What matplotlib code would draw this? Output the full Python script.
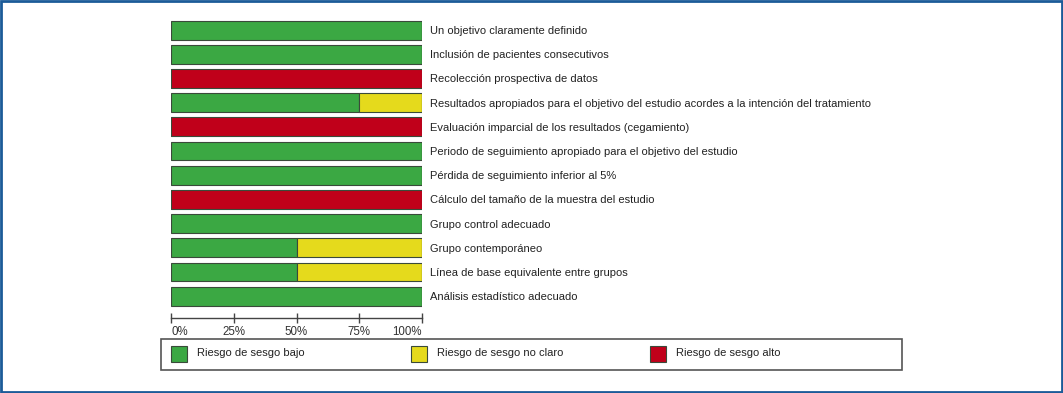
import matplotlib
matplotlib.use("Agg")
import matplotlib.pyplot as plt
from matplotlib.patches import Rectangle
from matplotlib.transforms import blended_transform_factory

plt.rcParams['font.family'] = ['Liberation Sans', 'DejaVu Sans']

categories = [
    "Un objetivo claramente definido",
    "Inclusión de pacientes consecutivos",
    "Recolección prospectiva de datos",
    "Resultados apropiados para el objetivo del estudio acordes a la intención del tratamiento",
    "Evaluación imparcial de los resultados (cegamiento)",
    "Periodo de seguimiento apropiado para el objetivo del estudio",
    "Pérdida de seguimiento inferior al 5%",
    "Cálculo del tamaño de la muestra del estudio",
    "Grupo control adecuado",
    "Grupo contemporáneo",
    "Línea de base equivalente entre grupos",
    "Análisis estadístico adecuado",
]
low_risk = [100, 100, 0, 75, 0, 100, 100, 0, 100, 50, 50, 100]
unclear_risk = [0, 0, 0, 25, 0, 0, 0, 0, 0, 50, 50, 0]
high_risk = [0, 0, 100, 0, 100, 0, 0, 100, 0, 0, 0, 0]
series_labels = ["Riesgo de sesgo bajo", "Riesgo de sesgo no claro", "Riesgo de sesgo alto"]
tick_values = [0, 25, 50, 75, 100]
tick_labels = ["0%", "25%", "50%", "75%", "100%"]

colors = ["#3ba843", "#e5da1c", "#c0001a"]
edge = "#3a4a3a"

W, H = 1063, 393
fig = plt.figure(figsize=(W / 100, H / 100), dpi=100)

def fx(px):
    return px / W

def fy(py):
    return 1 - py / H

ax = fig.add_axes([fx(171), fy(318), fx(422) - fx(171), fy(18) - fy(318)])
y = list(range(len(categories)))
left = [0] * len(categories)
for vals, col in zip([low_risk, unclear_risk, high_risk], colors):
    ax.barh(y, vals, left=left, height=0.78, color=col, edgecolor=edge, linewidth=0.8)
    left = [a + b for a, b in zip(left, vals)]

ax.set_xlim(0, 100)
ax.set_ylim(11.9, -0.5)
for s in ["top", "right", "left"]:
    ax.spines[s].set_visible(False)
ax.spines["bottom"].set_color("#444444")
ax.spines["bottom"].set_linewidth(1.0)
ax.set_yticks([])
ax.set_xticks(tick_values)
ax.set_xticklabels(tick_labels)
ax.tick_params(axis="x", direction="inout", length=7, width=1.0, color="#444444",
               labelsize=8.3, labelcolor="#333333", pad=2.5)
xt = ax.get_xticklabels()
xt[0].set_ha("left")
xt[-1].set_ha("right")

trans = blended_transform_factory(fig.transFigure, ax.transData)
for yi, cat in zip(y, categories):
    ax.text(fx(430), yi + 0.04, cat, transform=trans, va="center", ha="left",
            fontsize=8, color="#222222", clip_on=False)

# Legend box
fig.patches.append(Rectangle((fx(161), fy(370)), fx(902) - fx(161), fy(339) - fy(370),
                             transform=fig.transFigure, fill=False, edgecolor="#555555",
                             linewidth=1.2))
swatch_x = [171, 411, 650]
for sx, col, lab in zip(swatch_x, colors, series_labels):
    fig.patches.append(Rectangle((fx(sx), fy(362)), fx(16), 16 / H,
                                 transform=fig.transFigure, facecolor=col,
                                 edgecolor=edge, linewidth=0.8))
    fig.text(fx(sx + 26), fy(353), lab, ha="left", va="center", fontsize=8, color="#222222")

# Outer border
fig.patches.append(Rectangle((fx(1), fy(392)), fx(1061), 391 / H,
                             transform=fig.transFigure, fill=False,
                             edgecolor="#1b5b98", linewidth=2))

fig.savefig("out.png", dpi=100)
